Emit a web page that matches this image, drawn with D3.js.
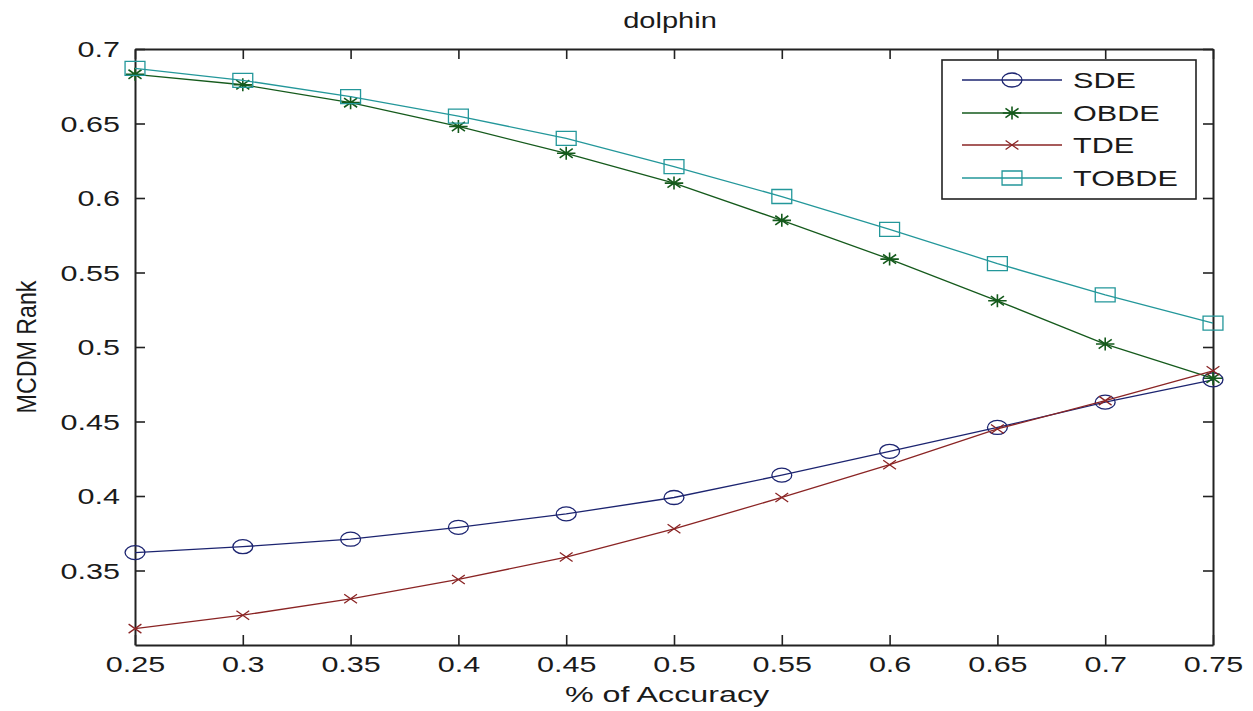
<!DOCTYPE html>
<html>
<head>
<meta charset="utf-8">
<script src="https://cdn.jsdelivr.net/npm/d3@7"></script>
<style>
  html, body { margin: 0; padding: 0; background: #fff; }
  svg { display: block; }
  text { font-family: "Liberation Sans", Arial, sans-serif; fill: #1a1a1a; }
</style>
</head>
<body>
<svg id="chart" width="1253" height="711"></svg>
<script>
// Fraction of accuracy on the x axis
const accuracy = [0.25, 0.3, 0.35, 0.4, 0.45, 0.5, 0.55, 0.6, 0.65, 0.7, 0.75];

// MCDM rank for each method
const sde   = [0.362, 0.366, 0.371, 0.379, 0.388, 0.399, 0.414, 0.430, 0.446, 0.463, 0.478];
const obde  = [0.683, 0.676, 0.664, 0.648, 0.630, 0.610, 0.585, 0.559, 0.531, 0.502, 0.479];
const tde   = [0.311, 0.320, 0.331, 0.344, 0.359, 0.378, 0.399, 0.421, 0.445, 0.464, 0.484];
const tobde = [0.687, 0.679, 0.668, 0.655, 0.640, 0.621, 0.601, 0.579, 0.556, 0.535, 0.516];

const seriesNames = ["SDE", "OBDE", "TDE", "TOBDE"];
const xTicks = [0.25, 0.3, 0.35, 0.4, 0.45, 0.5, 0.55, 0.6, 0.65, 0.7, 0.75];
const yTicks = [0.35, 0.4, 0.45, 0.5, 0.55, 0.6, 0.65, 0.7];

const titleText = "dolphin";
const xLabelText = "% of Accuracy";
const yLabelText = "MCDM Rank";

const series = [
  { name: seriesNames[0], values: sde,   color: "#1c2470", marker: "circle" },
  { name: seriesNames[1], values: obde,  color: "#155a1c", marker: "star" },
  { name: seriesNames[2], values: tde,   color: "#8a2424", marker: "cross" },
  { name: seriesNames[3], values: tobde, color: "#23979a", marker: "square" }
];

// Horizontal stretch applied to glyphs and markers
const SX = 1.42;

const svg = d3.select("#chart");
const margin = { left: 135, right: 1253 - 1213, top: 49, bottom: 711 - 645 };
const W = 1253, H = 711;

const x = d3.scaleLinear().domain([0.25, 0.75]).range([margin.left, W - margin.right]);
const y = d3.scaleLinear().domain([0.3, 0.7]).range([H - margin.bottom, margin.top]);

const axisColor = "#222";
const fontSize = 21.5;

function styleAxis(g) {
  g.select(".domain").attr("stroke", axisColor).attr("stroke-width", 2);
  g.selectAll(".tick line").attr("stroke", axisColor).attr("stroke-width", 1.6);
}

// Bottom axis with labels, ticks pointing inward
const gx = svg.append("g")
  .attr("transform", `translate(0,${y(0.3)})`)
  .call(d3.axisBottom(x).tickValues(xTicks).tickSize(-10).tickSizeOuter(0)
        .tickFormat(d3.format("")));
styleAxis(gx);
gx.selectAll(".tick text")
  .attr("y", 27).attr("dy", 0)
  .attr("x", 0)
  .attr("transform", `scale(${SX},1)`)
  .attr("font-size", fontSize)
  .attr("fill", "#1a1a1a");

// Top axis: ticks only
const gxt = svg.append("g")
  .attr("transform", `translate(0,${y(0.7)})`)
  .call(d3.axisTop(x).tickValues(xTicks).tickSize(-10).tickSizeOuter(0).tickFormat(""));
styleAxis(gxt);

// Left axis with labels
const gy = svg.append("g")
  .attr("transform", `translate(${x(0.25)},0)`)
  .call(d3.axisLeft(y).tickValues(yTicks).tickSize(-10).tickSizeOuter(0)
        .tickFormat(d3.format("")));
styleAxis(gy);
gy.selectAll(".tick text")
  .attr("x", -15 / SX).attr("dy", "0.36em")
  .attr("transform", `scale(${SX},1)`)
  .attr("font-size", fontSize)
  .attr("fill", "#1a1a1a");

// Right axis: ticks only
const gyr = svg.append("g")
  .attr("transform", `translate(${x(0.75)},0)`)
  .call(d3.axisRight(y).tickValues(yTicks).tickSize(-10).tickSizeOuter(0).tickFormat(""));
styleAxis(gyr);

// Title and axis labels
svg.append("text")
  .attr("transform", `translate(${(x(0.25) + x(0.75)) / 2 - 4},28) scale(1.32,1)`)
  .attr("text-anchor", "middle")
  .attr("font-size", 22)
  .text(titleText);

svg.append("text")
  .attr("transform", `translate(${(x(0.25) + x(0.75)) / 2 - 7},702) scale(1.5,1)`)
  .attr("text-anchor", "middle")
  .attr("font-size", fontSize)
  .text(xLabelText);

svg.append("text")
  .attr("transform", `translate(36,${(y(0.3) + y(0.7)) / 2}) rotate(-90) scale(1.08,1.3)`)
  .attr("text-anchor", "middle")
  .attr("font-size", 21.5)
  .text(yLabelText);

// Marker shapes, drawn in unstretched units then widened by SX
function markerPath(type) {
  switch (type) {
    case "circle": {
      const r = 7;
      return `M${r},0A${r},${r} 0 1,1 ${-r},0A${r},${r} 0 1,1 ${r},0Z`;
    }
    case "square": {
      const s = 7;
      return `M${-s},${-s}H${s}V${s}H${-s}Z`;
    }
    case "star": {
      const s = 6.5, d = 4.6;
      return `M${-s},0H${s}M0,${-s}V${s}M${-d},${-d}L${d},${d}M${-d},${d}L${d},${-d}`;
    }
    case "cross": {
      const s = 4.5;
      return `M${-s},${-s}L${s},${s}M${-s},${s}L${s},${-s}`;
    }
  }
}

const line = d3.line().x(d => x(d[0])).y(d => y(d[1]));

const plot = svg.append("g");
series.forEach(s => {
  const pts = accuracy.map((a, i) => [a, s.values[i]]);
  plot.append("path")
    .attr("d", line(pts))
    .attr("fill", "none")
    .attr("stroke", s.color)
    .attr("stroke-width", 1.3);
  plot.selectAll(null)
    .data(pts)
    .join("path")
    .attr("transform", d => `translate(${x(d[0])},${y(d[1])}) scale(${SX},1)`)
    .attr("d", markerPath(s.marker))
    .attr("fill", "none")
    .attr("stroke", s.color)
    .attr("stroke-width", s.marker === "star" ? 1.6 : 1.3)
    .attr("vector-effect", "non-scaling-stroke");
});

// Legend
const lg = svg.append("g");
const lgLeft = 942, lgTop = 60, lgRight = 1196, lgBottom = 199;
lg.append("rect")
  .attr("x", lgLeft).attr("y", lgTop)
  .attr("width", lgRight - lgLeft).attr("height", lgBottom - lgTop)
  .attr("fill", "#fff").attr("stroke", axisColor).attr("stroke-width", 1.6);

const rowY = [80, 113, 145, 178];
series.forEach((s, i) => {
  const ry = rowY[i];
  lg.append("line")
    .attr("x1", 962).attr("x2", 1062).attr("y1", ry).attr("y2", ry)
    .attr("stroke", s.color).attr("stroke-width", 1.3);
  lg.append("path")
    .attr("transform", `translate(1012,${ry}) scale(${SX},1)`)
    .attr("d", markerPath(s.marker))
    .attr("fill", "none")
    .attr("stroke", s.color)
    .attr("stroke-width", s.marker === "star" ? 1.6 : 1.3)
    .attr("vector-effect", "non-scaling-stroke");
  lg.append("text")
    .attr("transform", `translate(1073,${ry + 8}) scale(1.36,1)`)
    .attr("font-size", 22.5)
    .text(s.name);
});
</script>
</body>
</html>
